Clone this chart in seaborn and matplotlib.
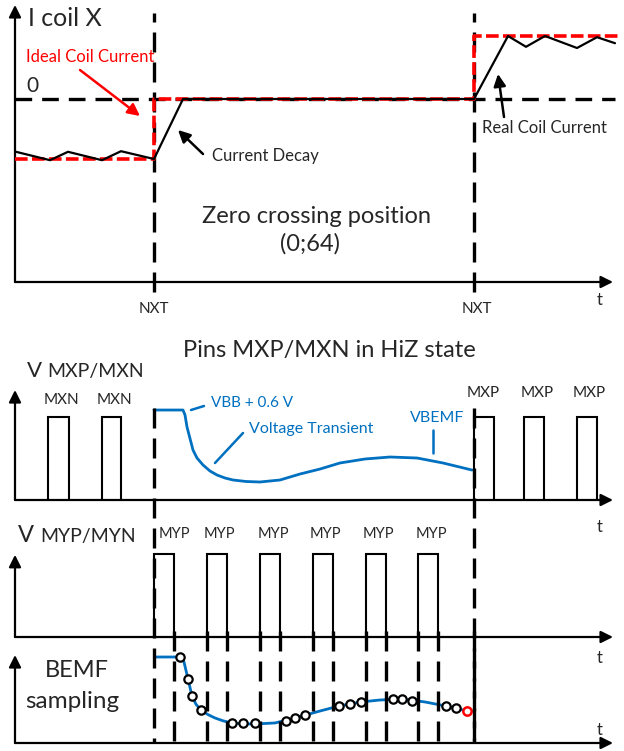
import matplotlib
matplotlib.use("Agg")
import matplotlib.pyplot as plt
from matplotlib import transforms
import seaborn as sns

# --- time base: NXT steps at t=0 and t=64 (zero crossing window) ---
nxt_t = [0, 64]

# --- coil current, in units of the ideal step ---
ideal_t = [-27.8, 0, 0, 64, 64, 93.2]
ideal_i = [-1.0, -1.0, 0.0, 0.0, 1.05, 1.05]
real_t = [-27.6, -20.8, -17.2, -10.4, -6.6, 0, 5.8, 64, 70.8, 74.4, 78.2, 84.6, 88.6, 92.2]
real_i = [-0.88, -1.02, -0.88, -1.02, -0.87, -1.0, 0.0, 0.0, 1.05, 0.87, 1.05, 0.85, 1.03, 0.93]

# --- MXP/MXN pulses ---
mxn_start = [-21.2, -10.4]
mxn_end = [-17.0, -6.6]
mxp_start = [64.0, 74.0, 84.6]
mxp_end = [68.0, 78.0, 88.6]

# voltage on the floating pin (VBB + 0.6 V clamp, transient, then BEMF)
vbemf_t = [0, 5.8, 6.2, 6.6, 7.8, 8.6, 9.8, 11.2, 12.6, 14.2, 15.8, 18.4, 21.2, 25.2, 29.2, 33.2,
           37.2, 42.2, 47.2, 52.6, 57.8, 63.6]
vbemf_v = [1.084, 1.084, 1.024, 0.88, 0.602, 0.506, 0.422, 0.349, 0.301, 0.265, 0.241, 0.223,
           0.217, 0.241, 0.313, 0.373, 0.446, 0.494, 0.518, 0.506, 0.446, 0.361]

# --- MYP pulses ---
myp_start = [0.0, 10.6, 21.2, 31.8, 42.4, 52.8]
myp_end = [4.0, 14.6, 25.2, 35.8, 46.4, 56.8]

# --- BEMF sampling ---
bemf_t = [0.2, 5.2, 6.0, 6.8, 7.6, 8.4, 9.4, 10.8, 12.2, 13.8, 15.6, 18.0, 20.2, 24.2, 28.2, 33.2,
          37.0, 41.4, 45.2, 49.6, 54.2, 58.4, 62.6]
bemf_v = [1.0, 1.0, 0.942, 0.744, 0.547, 0.45, 0.384, 0.33, 0.291, 0.258, 0.233, 0.222, 0.221,
          0.233, 0.291, 0.372, 0.43, 0.477, 0.5, 0.512, 0.477, 0.43, 0.372]
sample_t = [5.2, 6.8, 7.6, 9.4, 15.6, 17.8, 20.2, 26.4, 28.2, 30.2, 37.0, 39.2, 41.4, 47.8, 49.6,
            51.6, 58.4, 60.4]
sample_v = [1.0, 0.744, 0.547, 0.384, 0.233, 0.233, 0.233, 0.256, 0.291, 0.326, 0.43, 0.453,
            0.477, 0.512, 0.512, 0.488, 0.43, 0.407]
last_t = [62.6]
last_v = [0.372]

# --- layout ---
W, H = 624, 751
T_LEFT, T_RIGHT = -30.8, 94.0
T_AXIS = (-27.8, 91.8)
BLUE = "#0070C0"
RED = "#FF0000"

sns.set_theme(style="white")
plt.rcParams["font.family"] = ["Lato", "DejaVu Sans"]

fig = plt.figure(figsize=(W / 100, H / 100), dpi=100)


def panel(top, bottom, zero, unit):
    ax = fig.add_axes([0, 1 - bottom / H, 1, (bottom - top) / H])
    ax.set_xlim(T_LEFT, T_RIGHT)
    ax.set_ylim((zero - bottom) / unit, (zero - top) / unit)
    ax.axis("off")
    ax.patch.set_visible(False)
    return ax


def draw_axes(ax, ytop, ybase=0):
    kw = dict(arrowstyle="-|>,head_length=0.6,head_width=0.3", color="black", lw=1.6,
              mutation_scale=12, shrinkA=0, shrinkB=0)
    ax.annotate("", xy=(T_AXIS[0], ytop), xytext=(T_AXIS[0], ybase), arrowprops=kw, annotation_clip=False)
    ax.annotate("", xy=(T_AXIS[1], ybase), xytext=(T_AXIS[0], ybase), arrowprops=kw, annotation_clip=False)


def draw_pulses(ax, starts, ends):
    for s, e in zip(starts, ends):
        ax.plot([s, s, e, e], [0, 1, 1, 0], color="black", lw=1.5, solid_joinstyle="miter")


DASH = (0, (6, 3))

# Panel 1: coil current
ax1 = panel(0, 320, 99, 60)
draw_axes(ax1, 1.567, ybase=-3.05)
ax1.plot([T_AXIS[0], 92.2], [0, 0], color="black", lw=2.4, linestyle=(0, (5, 3)), zorder=2)
ax1.vlines(nxt_t, -3.217, 1.433, color="black", lw=2.4, linestyles=[DASH], zorder=2)
sns.lineplot(x=ideal_t, y=ideal_i, ax=ax1, sort=False, estimator=None, color=RED, lw=2.6,
             linestyle=(0, (3.5, 1.2)), zorder=3)
sns.lineplot(x=real_t, y=real_i, ax=ax1, sort=False, estimator=None, color="black", lw=1.6, zorder=4)

# Panel 2: MXP/MXN
ax2 = panel(320, 510, 500, 83)
draw_axes(ax2, 1.325)
draw_pulses(ax2, mxn_start, mxn_end)
draw_pulses(ax2, mxp_start, mxp_end)
sns.lineplot(x=vbemf_t, y=vbemf_v, ax=ax2, sort=False, estimator=None, color=BLUE, lw=2.0)

# Panel 3: MYP/MYN
ax3 = panel(510, 645, 637, 83)
draw_axes(ax3, 0.99)
draw_pulses(ax3, myp_start, myp_end)

# Panel 4: BEMF sampling
ax4 = panel(645, 751, 743, 86)
draw_axes(ax4, 1.023)
sns.lineplot(x=bemf_t, y=bemf_v, ax=ax4, sort=False, estimator=None, color=BLUE, lw=2.0)
sns.scatterplot(x=sample_t, y=sample_v, ax=ax4, s=36, color="white", edgecolor="black",
                linewidth=1.6, zorder=5)
sns.scatterplot(x=last_t, y=last_v, ax=ax4, s=36, color="white", edgecolor=RED,
                linewidth=1.8, zorder=5)

# overlay in pixel rows for the long vertical markers and text
ov = fig.add_axes([0, 0, 1, 1])
ov.set_xlim(0, W)
ov.set_ylim(H, 0)
ov.axis("off")
ov.patch.set_visible(False)
tvert = transforms.blended_transform_factory(ax1.transData, ov.transData)
ov.vlines(nxt_t, 408, 743, color="black", lw=2.4, linestyles=[DASH], transform=tvert)
ov.vlines(myp_start[1:] + myp_end + [nxt_t[1]], 631, 743, color="black", lw=2.4,
          linestyles=[DASH], transform=tvert)

# --- text ---
ov.text(28, 26, "I coil X", fontsize=18, va="baseline")
ov.text(26, 62, "Ideal Coil Current", fontsize=12, color=RED, va="baseline")
ov.text(26, 92, "0", fontsize=15, va="baseline")
ov.text(212, 161, "Current Decay", fontsize=12, va="baseline")
ov.text(316, 223, "Zero crossing position", fontsize=17, ha="center", va="baseline")
ov.text(310, 251, "(0;64)", fontsize=17, ha="center", va="baseline")
ov.text(482, 133, "Real Coil Current", fontsize=12, va="baseline")
for x in (154, 477):
    ov.text(x, 313, "NXT", fontsize=11, ha="center", va="baseline")

arw = dict(arrowstyle="-|>,head_length=0.6,head_width=0.3", lw=1.8, mutation_scale=12,
           shrinkA=0, shrinkB=0)
ov.annotate("", xy=(140, 116), xytext=(80, 70), arrowprops=dict(arw, color=RED))
ov.annotate("", xy=(178, 130), xytext=(203, 154), arrowprops=dict(arw, color="black"))
ov.annotate("", xy=(498, 74), xytext=(504, 117), arrowprops=dict(arw, color="black"))

ov.text(183, 357, "Pins MXP/MXN in HiZ state", fontsize=17, va="baseline")
ov.text(27, 377, "V", fontsize=16, va="baseline")
ov.text(47, 377, "MXP/MXN", fontsize=14, va="baseline")
for x in (61, 114):
    ov.text(x, 404, "MXN", fontsize=11, ha="center", va="baseline")
for x in (483, 537, 589):
    ov.text(x, 397, "MXP", fontsize=11, ha="center", va="baseline")
ov.text(211, 407, "VBB + 0.6 V", fontsize=11, color=BLUE, va="baseline")
ov.text(249, 433, "Voltage Transient", fontsize=11.5, color=BLUE, va="baseline")
ov.text(410, 422, "VBEMF", fontsize=11.5, color=BLUE, va="baseline")
ov.plot([191, 204], [410, 406], color=BLUE, lw=1.8)
ov.plot([215, 243], [463, 433], color=BLUE, lw=1.8)
ov.plot([433, 433], [430, 453], color=BLUE, lw=1.8)

ov.text(18, 542, "V", fontsize=17, va="baseline")
ov.text(40, 542, "MYP/MYN", fontsize=14, va="baseline")
for x in (174, 219, 273, 325, 378, 431):
    ov.text(x, 538, "MYP", fontsize=10.5, ha="center", va="baseline")

ov.text(45, 677, "BEMF", fontsize=17, va="baseline")
ov.text(25, 708, "sampling", fontsize=17.5, va="baseline")

for y in (305, 532, 663, 735):
    ov.text(597, y, "t", fontsize=12, va="baseline")

fig.savefig("out.png", dpi=100)
